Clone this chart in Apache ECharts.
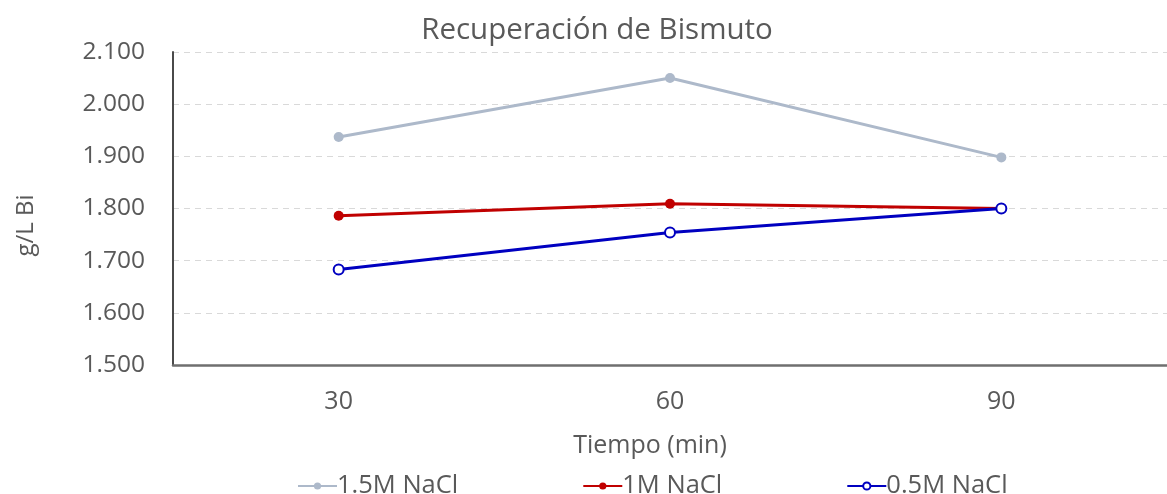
<!DOCTYPE html>
<html>
<head>
<meta charset="utf-8">
<script src="https://cdn.jsdelivr.net/npm/echarts@6/dist/echarts.min.js"></script>
<style>
  html, body { margin: 0; padding: 0; background: #fff; }
  #chart { width: 1167px; height: 494px; }
</style>
</head>
<body>
<div id="chart"></div>
<script>
// Bismuth recovery (g/L) over leaching time for three NaCl concentrations
const tiempos = ['30', '60', '90'];
const nacl15 = [1.937, 2.050, 1.898];
const nacl10 = [1.786, 1.809, 1.800];
const nacl05 = [1.683, 1.754, 1.800];
const seriesNames = ['1.5M NaCl', '1M NaCl', '0.5M NaCl'];

const FONT = '"Open Sans", sans-serif';
const TEXT = '#595959';

const chart = echarts.init(document.getElementById('chart'));
chart.setOption({
  animation: false,
  backgroundColor: '#ffffff',
  title: {
    text: 'Recuperación de Bismuto',
    left: 592,
    top: 11,
    textAlign: 'center',
    textStyle: { fontFamily: FONT, fontSize: 29.5, fontWeight: 'normal', color: TEXT }
  },
  legend: {
    data: seriesNames,
    left: 292,
    top: 468,
    itemWidth: 39,
    itemHeight: 9,
    itemGap: 124,
    textStyle: { fontFamily: FONT, fontSize: 25.5, color: TEXT, padding: [0, 0, 0, -5] }
  },
  grid: { left: 173, right: -13, top: 52, bottom: 129, containLabel: false },
  xAxis: {
    type: 'category',
    data: tiempos,
    boundaryGap: true,
    name: 'Tiempo (min)',
    nameLocation: 'middle',
    nameGap: 68,
    nameTextStyle: { fontFamily: FONT, fontSize: 25, color: TEXT, padding: [0, 40, 0, 0] },
    axisLine: { lineStyle: { color: '#6f6f6f', width: 2.5 } },
    axisTick: { show: false },
    axisLabel: { fontFamily: FONT, fontSize: 25, color: TEXT, margin: 24 }
  },
  yAxis: {
    type: 'value',
    min: 1.5,
    max: 2.1,
    interval: 0.1,
    name: 'g/L Bi',
    nameLocation: 'middle',
    nameRotate: 90,
    nameGap: 135,
    nameTextStyle: { fontFamily: FONT, fontSize: 24, color: TEXT, padding: [0, 34, 0, 0] },
    axisLine: { show: true, lineStyle: { color: '#4a4a4a', width: 2 } },
    axisTick: { show: false },
    axisLabel: {
      fontFamily: FONT, fontSize: 24.5, color: TEXT, margin: 28,
      formatter: v => v.toFixed(3)
    },
    splitLine: { lineStyle: { color: '#d9d9d9', type: [6, 5], width: 1.2 } }
  },
  series: [
    {
      name: seriesNames[0], type: 'line', data: nacl15,
      symbol: 'circle', symbolSize: 10,
      lineStyle: { color: '#adb9ca', width: 3 },
      itemStyle: { color: '#adb9ca' }
    },
    {
      name: seriesNames[1], type: 'line', data: nacl10,
      symbol: 'circle', symbolSize: 10,
      lineStyle: { color: '#c00000', width: 3 },
      itemStyle: { color: '#c00000' }
    },
    {
      name: seriesNames[2], type: 'line', data: nacl05,
      symbol: 'circle', symbolSize: 10,
      lineStyle: { color: '#0000c0', width: 3 },
      itemStyle: { color: '#ffffff', borderColor: '#0000c0', borderWidth: 2 }
    }
  ]
});
</script>
</body>
</html>
